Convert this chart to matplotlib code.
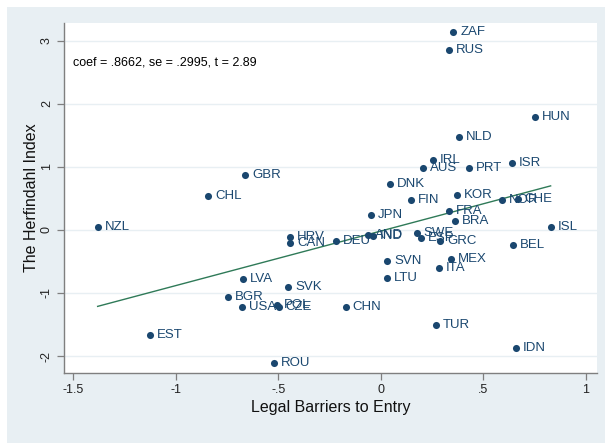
import matplotlib
matplotlib.use("Agg")
import matplotlib.pyplot as plt
from matplotlib.patches import Rectangle
import numpy as np

plt.rcParams['font.family'] = ['Liberation Sans', 'DejaVu Sans']

countries = ["ZAF", "RUS", "HUN", "NLD", "IRL", "AUS", "PRT", "ISR", "DNK",
             "GBR", "CHL", "NZL", "HRV", "CAN", "DEU", "LVA", "SVK", "BGR",
             "USA", "POL", "CZE", "CHN", "EST", "ROU", "FIN", "KOR", "NOR",
             "CHE", "FRA", "BRA", "JPN", "AND", "IND", "SWE", "ESP", "GRC",
             "BEL", "ISL", "MEX", "ITA", "SVN", "LTU", "TUR", "IDN"]
barriers = [0.353, 0.332, 0.750, 0.381, 0.253, 0.204, 0.430, 0.639, 0.045,
            -0.660, -0.840, -1.380, -0.443, -0.440, -0.218, -0.673, -0.450, -0.746,
            -0.678, -0.507, -0.498, -0.170, -1.123, -0.519, 0.146, 0.373, 0.590,
            0.667, 0.331, 0.362, -0.049, -0.061, -0.037, 0.176, 0.196, 0.290,
            0.646, 0.828, 0.342, 0.284, 0.032, 0.032, 0.269, 0.657]
herfindahl = [3.14, 2.86, 1.79, 1.48, 1.11, 0.99, 0.99, 1.06, 0.725,
              0.878, 0.535, 0.048, -0.116, -0.200, -0.180, -0.780, -0.910, -1.070,
              -1.217, -1.185, -1.228, -1.228, -1.660, -2.106, 0.470, 0.550, 0.480,
              0.487, 0.300, 0.137, 0.233, -0.085, -0.095, -0.053, -0.130, -0.170,
              -0.243, 0.043, -0.455, -0.603, -0.500, -0.757, -1.508, -1.868]

coef = 0.8662
se = 0.2995
tstat = 2.89
intercept = -0.017

xticks = [-1.5, -1, -0.5, 0, 0.5, 1]
xticklabels = ["-1.5", "-1", "-.5", "0", ".5", "1"]
yticks = [-2, -1, 0, 1, 2, 3]
yticklabels = ["-2", "-1", "0", "1", "2", "3"]

navy = "#1a476f"
bg = "#e8eff3"
fit_color = "#2f7a58"

fig = plt.figure(figsize=(6.05, 4.43), dpi=100)
fig.patch.set_facecolor("white")
fig.add_artist(Rectangle((7 / 605, 0), 1, 1 - 7 / 443, transform=fig.transFigure,
                         facecolor=bg, edgecolor="none", zorder=-10))

ax = fig.add_axes([64 / 605, 1 - 372.7 / 443, 533 / 605, 350 / 443])
ax.set_facecolor("white")
ax.set_xlim(-1.544, 1.054)
ax.set_ylim(-2.265, 3.29)

ax.set_yticks(yticks)
ax.set_yticklabels(yticklabels, rotation=90, va="center")
ax.set_xticks(xticks)
ax.set_xticklabels(xticklabels)
ax.grid(axis="y", color=bg, linewidth=1.0, zorder=0)
ax.set_axisbelow(True)

for side in ("top", "right"):
    ax.spines[side].set_visible(False)
for side in ("left", "bottom"):
    ax.spines[side].set_color("#7f7f7f")
    ax.spines[side].set_linewidth(1.0)
ax.tick_params(axis="both", colors="#7f7f7f", labelcolor="#222222",
               length=5, width=0.9, labelsize=9, pad=3)

# fitted line across the observed range
xs = np.array([min(barriers), max(barriers)])
ax.plot(xs, intercept + coef * xs, color=fit_color, linewidth=1.0, zorder=2)

ax.scatter(barriers, herfindahl, s=26, color=navy, zorder=3, linewidths=0)
for name, xv, yv in zip(countries, barriers, herfindahl):
    ax.annotate(name, (xv, yv), xytext=(5, 0), textcoords="offset points",
                va="center", ha="left", fontsize=9.5, color=navy, zorder=4)

ax.text(0.0175, 0.887, f"coef = {coef:.4f}".replace("0.", ".") +
        f", se = {se:.4f}".replace("0.", ".") + f", t = {tstat:.2f}",
        transform=ax.transAxes, fontsize=9, va="center", ha="left", color="black")

ax.set_xlabel("Legal Barriers to Entry", fontsize=11.5, labelpad=3, color="#111111")
ax.set_ylabel("The Herfindahl Index", fontsize=11.5, labelpad=1.5, color="#111111")

fig.savefig("out.png", dpi=100, facecolor=fig.get_facecolor())
